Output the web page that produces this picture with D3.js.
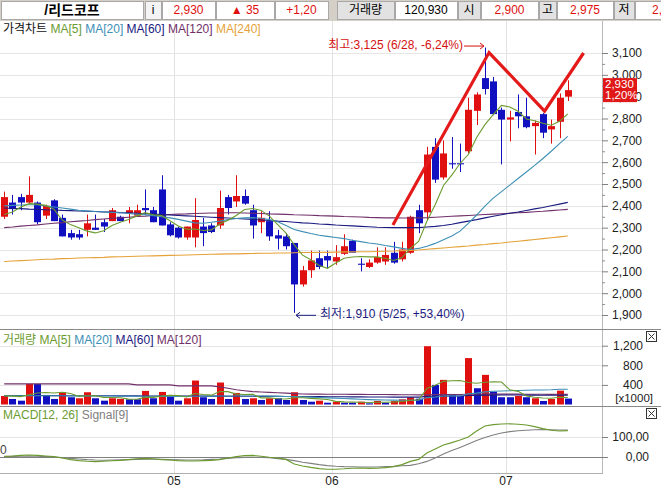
<!DOCTYPE html>
<html><head><meta charset="utf-8">
<script src="https://cdn.jsdelivr.net/npm/d3@7"></script>
<style>
html,body{margin:0;padding:0;background:#fff;overflow:hidden}
svg{display:block;font-family:"Liberation Sans","Noto Sans CJK KR",sans-serif;font-size:12px}
</style></head><body>
<svg id="c" width="661" height="491"></svg>
<script>
// ---------- DATA ----------
const stockName = "/리드코프";
const curPrice = "2,930", change = "35", changePct = "+1,20", todayVol = "120,930";
const dayOpen = "2,900", dayHigh = "2,975", dayLow = "2,880";
const lastPctLabel = "1,20%";

const opens = [2350,2415,2440,2415,2415,2355,2425,2345,2275,2270, 2290,2300,2325,2330,2350,2365,2355,2390,2380,2475, 2315,2300,2255,2255,2305,2310,2310,2440,2420,2445, 2380,2325,2330,2265,2260,2230,2040,2105,2160,2170, 2145,2180,2240,2135,2120,2140,2145,2185,2155,2185, 2380,2370,2670,2530,2595,2595,2650,2835,2985,2970, 2840,2795,2830,2810,2765,2820,2750,2785,2900];
const highs = [2465,2450,2455,2535,2420,2405,2430,2360,2290,2290, 2360,2360,2340,2390,2355,2395,2405,2475,2395,2540, 2325,2305,2305,2435,2345,2320,2470,2450,2540,2475, 2405,2375,2375,2290,2275,2230,2125,2195,2195,2195, 2220,2270,2245,2160,2155,2210,2210,2235,2235,2355, 2405,2670,2710,2700,2715,2685,2895,2920,3125,2990, 2850,2835,2910,2895,2790,2825,2795,2915,2975];
const lows = [2340,2360,2380,2410,2315,2340,2330,2260,2245,2245, 2260,2290,2280,2330,2330,2320,2350,2360,2325,2310, 2260,2250,2245,2210,2215,2275,2295,2360,2395,2405, 2250,2275,2240,2200,2200,1910,2030,2070,2110,2115, 2130,2175,2185,2100,2115,2135,2130,2135,2145,2180, 2275,2335,2505,2520,2570,2555,2640,2770,2910,2815, 2590,2695,2755,2755,2635,2710,2685,2710,2880];
const closes = [2440,2385,2415,2450,2325,2400,2330,2260,2255,2255, 2320,2290,2305,2380,2330,2380,2380,2380,2325,2310, 2265,2255,2305,2335,2275,2280,2390,2390,2445,2410, 2310,2345,2260,2250,2215,2040,2105,2150,2120,2150, 2165,2215,2185,2130,2140,2165,2175,2140,2200,2350, 2320,2635,2520,2640,2590,2590,2840,2910,2935,2820, 2795,2805,2810,2760,2780,2735,2765,2895,2930];

const ma5 = [2360,2372,2395,2410,2408,2402,2385,2335,2314,2300, 2284,2276,2286,2310,2325,2337,2354,2369,2359,2355, 2332,2308,2293,2294,2287,2290,2317,2334,2356,2383, 2388,2379,2353,2314,2275,2221,2174,2153,2127,2114, 2138,2160,2166,2168,2166,2166,2159,2150,2163,2205, 2237,2329,2405,2493,2541,2594,2635,2713,2772,2818, 2860,2853,2833,2798,2790,2778,2769,2787,2821];
const ma20 = [2400,2402,2404,2405,2405,2400,2395,2390,2385,2380, 2377,2374,2372,2370,2368,2365,2362,2359,2355,2350, 2345,2338,2330,2322,2320,2325,2330,2337,2342,2345, 2346,2343,2337,2327,2310,2292,2282,2273,2265,2260, 2255,2250,2242,2236,2230,2225,2218,2212,2205,2200, 2205,2215,2228,2245,2262,2284,2320,2358,2399,2435, 2465,2495,2525,2555,2585,2617,2650,2685,2718];
const ma60 = [2390,2388,2387,2385,2384,2382,2381,2379,2378,2376, 2375,2374,2372,2371,2369,2368,2366,2364,2362,2360, 2358,2356,2354,2352,2350,2348,2346,2344,2342,2340, 2338,2335,2333,2330,2328,2325,2322,2320,2317,2315, 2312,2310,2308,2306,2304,2302,2301,2300,2300,2300, 2300,2303,2306,2310,2316,2323,2330,2337,2345,2352, 2359,2366,2372,2379,2386,2392,2400,2408,2416];
const ma120 = [2300,2303,2307,2310,2313,2317,2320,2323,2327,2330, 2333,2337,2340,2343,2345,2348,2351,2353,2356,2358, 2360,2362,2363,2365,2366,2367,2367,2368,2368,2367, 2366,2365,2363,2362,2361,2359,2358,2357,2355,2354, 2353,2351,2350,2349,2347,2346,2345,2345,2344,2344, 2345,2346,2348,2350,2352,2354,2356,2358,2360,2362, 2364,2366,2368,2370,2373,2375,2378,2381,2384];
const ma240 = [2145,2147,2149,2151,2153,2155,2156,2158,2159,2161, 2162,2163,2164,2166,2167,2168,2169,2170,2171,2172, 2173,2174,2175,2176,2177,2178,2179,2180,2180,2181, 2182,2183,2183,2184,2184,2185,2186,2186,2187,2187, 2188,2189,2189,2190,2190,2191,2192,2193,2195,2196, 2198,2201,2204,2207,2210,2213,2216,2220,2223,2227, 2230,2234,2238,2242,2246,2250,2254,2258,2262];

// volume in thousands of shares; 1 = red bar, 0 = blue bar
const volumes = [174,113,78,420,420,195,113,250,148,127, 250,127,78,127,113,106,106,277,127,256, 174,78,127,489,148,113,448,113,236,113, 127,92,127,127,92,250,92,57,78,37, 57,37,37,57,24,71,37,71,106,147, 119,1190,400,502,215,174,947,332,605,263, 148,148,174,148,127,72,113,283,121];
const volUp = [1,0,0,1,0,0,0,1,0,1, 1,0,0,1,1,0,0,1,0,1, 0,0,1,1,0,0,1,0,1,0, 1,0,1,0,0,1,0,0,1,0, 1,0,0,1,0,1,0,1,1,1, 0,1,0,1,0,0,1,0,1,0, 0,0,1,0,1,0,1,1,0];
const volMa5 = [180,170,160,200,235,245,235,250,225,170, 178,180,146,142,139,110,106,146,146,174, 188,182,152,225,203,191,265,262,212,205, 207,136,139,117,113,138,138,124,114,103, 64,53,49,45,42,45,45,52,62,86, 96,327,392,472,485,490,448,434,455,464, 459,299,268,176,149,134,127,149,143];
const volMa20 = [175,176,178,180,180,180,179,178,177,176, 175,174,173,172,171,170,169,168,167,166, 165,166,167,168,169,170,172,174,175,175, 175,172,170,166,163,160,155,150,142,135, 130,122,115,108,100,95,92,90,88,86, 86,141,154,173,179,175,218,232,258,270, 274,280,287,291,296,296,300,311,311];
const volMa60 = [185,184,184,183,183,182,181,181,180,180, 179,179,178,178,177,177,176,175,175,174, 174,173,172,172,171,170,170,169,168,168, 167,166,165,165,164,163,162,161,160,159, 158,157,156,155,154,153,152,151,150,150, 150,165,167,170,172,175,185,187,192,192, 193,193,193,192,191,190,189,189,188];
const volMa120 = [420,420,420,420,420,420,420,420,420,420, 420,420,420,420,420,420,400,400,400,400, 400,380,380,380,380,380,360,330,300,280, 263,255,248,240,232,222,215,212,211,210, 209,208,207,206,205,204,203,202,200,198, 196,200,201,203,203,203,208,209,212,212, 212,211,211,210,209,208,207,208,207];

const macd = [3,5,8,10,8,5,2,-5,-13,-18, -21,-23,-21,-19,-17,-13,-9,-7,-9,-13, -15,-18,-20,-20,-18,-17,-13,-5,2,7, 8,4,-1,-5,-12,-35,-45,-52,-58,-61, -61,-59,-56,-55,-57,-56,-53,-48,-38,-22, -12,20,40,60,72,85,100,130,155,162, 165,166,164,160,152,142,134,130,132];
const signal = [2,3,4,5,4,2,0,-3,-7,-10, -13,-15,-16,-15,-14,-13,-12,-11,-11,-12, -13,-14,-15,-15,-14,-12,-10,-7,-4,-2, -1,-2,-4,-8,-12,-18,-26,-32,-38,-43, -46,-48,-49,-50,-50,-50,-48,-47,-44,-42, -34,-22,-5,15,32,48,65,82,98,110, 120,127,131,134,136,137,136,135,135];

const monthLabels = ["05","06","07"];
const monthStart = [21,40,61];
const priceTicks = [1900,2000,2100,2200,2300,2400,2500,2600,2700,2800,2900,3000,3100];
const volTicks = [400,800,1200];
const macdTicks = [0,100];

const hiIdx = 58, hiLabel = "최고:3,125 (6/28, -6,24%)";
const loIdx = 35, loLabel = "최저:1,910 (5/25, +53,40%)";
// hand-drawn trend line (candle index, price)
const trendIdx = [46.9, 58.5, 65.2, 69.9];
const trendPrice = [2312, 3102, 2834, 3100];

// ---------- DRAW ----------
const W = 661, H = 491, PR = 602;
const RED = "#e01010", BLUE = "#1010c0";
const C5 = "#6b9b2f", C20 = "#3d8fb5", C60 = "#1a1a80", C120 = "#70306a", C240 = "#e5a23a";
const svg = d3.select("#c");
const n = closes.length;
const x = d3.scaleLinear().domain([0, n - 1]).range([4.2, 567.8]);
const yP = d3.scaleLinear().domain([1900, 3100]).range([315, 53]);
const yV = d3.scaleLinear().domain([0, 1200]).range([404.5, 345.7]);
const yM = d3.scaleLinear().domain([0, 100]).range([457, 437]);
const cx = i => Math.round(x(i));
const fmtC = d3.format(",");
const fmtM = d => d3.format(".2f")(d).replace(".", ",");

svg.append("rect").attr("width", W).attr("height", H).attr("fill", "#fff");

// header bar
svg.append("rect").attr("x", 0).attr("y", 0).attr("width", W).attr("height", 21).attr("fill", "#d4d0c8");
const hdr = [
  {x0:1,x1:143,t:stockName,c:"#000",bg:"#fff",b:true},
  {x0:145,x1:161,t:"i",c:"#000",bg:"#f4f4f4"},
  {x0:162,x1:215,t:curPrice,c:RED,bg:"#fff"},
  {x0:216,x1:274,t:"▲ "+change,c:RED,bg:"#fff"},
  {x0:275,x1:328,t:changePct,c:RED,bg:"#fff"},
  {x0:337,x1:394,t:"거래량",c:"#000",bg:"#e2e2e2"},
  {x0:395,x1:457,t:todayVol,c:"#000",bg:"#fff"},
  {x0:458,x1:480,t:"시",c:"#000",bg:"#e2e2e2"},
  {x0:481,x1:538,t:dayOpen,c:RED,bg:"#fff"},
  {x0:539,x1:556,t:"고",c:"#000",bg:"#e2e2e2"},
  {x0:557,x1:613,t:dayHigh,c:RED,bg:"#fff"},
  {x0:614,x1:634,t:"저",c:"#000",bg:"#e2e2e2"},
  {x0:635,x1:680,t:dayLow,c:RED,bg:"#fff",start:652}
];
const hg = svg.append("g");
hdr.forEach(h => {
  hg.append("rect").attr("x", h.x0 + 0.5).attr("y", 1.5).attr("width", h.x1 - h.x0).attr("height", 18)
    .attr("fill", h.bg).attr("stroke", "#a8a8a8");
  hg.append("text").attr("x", h.start ? h.start : (h.x0 + h.x1) / 2).attr("y", 11)
    .attr("text-anchor", h.start ? "start" : "middle").attr("dominant-baseline", "middle")
    .attr("fill", h.c).attr("font-size", h.b ? 14 : 12).attr("font-weight", h.b ? "bold" : "normal").text(h.t);
});

// vertical month grid
const gx = svg.append("g");
monthStart.forEach(m => {
  gx.append("line").attr("x1", cx(m - 0.5) + 0.5).attr("x2", cx(m - 0.5) + 0.5).attr("y1", 21).attr("y2", 473)
    .attr("stroke", "#e2e2e2");
});

// price grid
const pg = svg.append("g");
priceTicks.forEach(t => pg.append("line").attr("x1", 0).attr("x2", PR).attr("y1", Math.round(yP(t)) + 0.5).attr("y2", Math.round(yP(t)) + 0.5).attr("stroke", "#e6e6e6"));
// volume grid
volTicks.forEach(t => pg.append("line").attr("x1", 0).attr("x2", PR).attr("y1", Math.round(yV(t)) + 0.5).attr("y2", Math.round(yV(t)) + 0.5).attr("stroke", "#e6e6e6"));
// macd grid
pg.append("line").attr("x1", 0).attr("x2", PR).attr("y1", Math.round(yM(100)) + 0.5).attr("y2", Math.round(yM(100)) + 0.5).attr("stroke", "#e6e6e6");
pg.append("line").attr("x1", 0).attr("x2", PR).attr("y1", Math.round(yM(0)) + 0.5).attr("y2", Math.round(yM(0)) + 0.5).attr("stroke", "#808080");

// panel frames
const fr = svg.append("g");
fr.append("line").attr("x1", PR + 0.5).attr("x2", PR + 0.5).attr("y1", 21).attr("y2", 473).attr("stroke", "#b8b8b8");
fr.append("line").attr("x1", 0).attr("x2", W).attr("y1", 329.5).attr("y2", 329.5).attr("stroke", "#8a8a8a");
fr.append("line").attr("x1", 0).attr("x2", W).attr("y1", 406.5).attr("y2", 406.5).attr("stroke", "#8a8a8a");
fr.append("line").attr("x1", 0).attr("x2", PR + 1).attr("y1", 473.5).attr("y2", 473.5).attr("stroke", "#b0b0b0");

// axes
function styleAxis(g, tx) {
  g.select(".domain").remove();
  g.selectAll(".tick line").attr("stroke", "#808080");
  g.selectAll(".tick text").attr("text-anchor", "end").attr("x", tx).attr("fill", "#222").attr("font-size", 12)
    .attr("font-family", "Liberation Sans, sans-serif");
}
svg.append("g").attr("transform", `translate(${PR},0)`)
  .call(d3.axisRight(yP).tickValues(d3.range(1950, 3101, 100)).tickSize(3).tickFormat(""))
  .call(g => { g.select(".domain").remove(); g.selectAll(".tick line").attr("stroke", "#909090"); });
svg.append("g").attr("transform", `translate(${PR},0)`)
  .call(d3.axisRight(yP).tickValues(priceTicks).tickSize(6).tickFormat(fmtC))
  .call(g => styleAxis(g, 40));
svg.append("g").attr("transform", `translate(${PR},0)`)
  .call(d3.axisRight(yV).tickValues(volTicks).tickSize(6).tickFormat(fmtC))
  .call(g => styleAxis(g, 41));
svg.append("text").attr("x", 653).attr("y", 399).attr("text-anchor", "end").attr("dominant-baseline", "middle")
  .attr("fill", "#222").attr("font-size", 11.5).text("[x1000]");
svg.append("g").attr("transform", `translate(${PR},0)`)
  .call(d3.axisRight(yM).tickValues(macdTicks).tickSize(6).tickFormat(fmtM))
  .call(g => styleAxis(g, 47));

// x labels
monthLabels.forEach((l, k) => svg.append("text").attr("x", cx(monthStart[k] - 0.5)).attr("y", 482)
  .attr("text-anchor", "middle").attr("dominant-baseline", "middle").attr("fill", "#222").text(l));

// price clip
svg.append("clipPath").attr("id", "pc").append("rect").attr("x", 0).attr("y", 21).attr("width", PR).attr("height", 308);
const pp = svg.append("g").attr("clip-path", "url(#pc)");

// candles
const cg = pp.append("g");
d3.range(n).forEach(i => {
  const up = closes[i] > opens[i];
  const col = up ? RED : BLUE;
  const xi = cx(i);
  cg.append("line").attr("x1", xi + 0.5).attr("x2", xi + 0.5).attr("y1", yP(highs[i])).attr("y2", yP(lows[i])).attr("stroke", col);
  const top = yP(Math.max(opens[i], closes[i])), bot = yP(Math.min(opens[i], closes[i]));
  cg.append("rect").attr("x", xi - 3).attr("y", top).attr("width", 7).attr("height", Math.max(1, bot - top)).attr("fill", col);
});

// moving averages
const lineP = d3.line().x((d, i) => x(i)).y(d => yP(d));
[[ma240, C240], [ma120, C120], [ma60, C60], [ma20, C20], [ma5, C5]].forEach(([arr, c]) =>
  pp.append("path").datum(arr).attr("d", lineP).attr("fill", "none").attr("stroke", c).attr("stroke-width", 1.1));

// trend line
const trend = trendIdx.map((t, k) => [t, trendPrice[k]]);
pp.append("path").datum(trend).attr("d", d3.line().x(d => x(d[0])).y(d => yP(d[1])))
  .attr("fill", "none").attr("stroke", "#e41a1a").attr("stroke-width", 3.2).attr("stroke-linejoin", "miter");

// annotations
const hx = cx(hiIdx), hy = yP(highs[hiIdx]) - 2;
svg.append("text").attr("x", hx - 22).attr("y", hy).attr("text-anchor", "end").attr("dominant-baseline", "middle")
  .attr("fill", "#d41010").text(hiLabel);
svg.append("path").attr("d", `M${hx - 21},${hy + 0.5}H${hx - 1}M${hx - 5},${hy - 2.5}L${hx - 1},${hy + 0.5}L${hx - 5},${hy + 3.5}`)
  .attr("fill", "none").attr("stroke", "#d41010");
const lx = cx(loIdx) + 1, ly = yP(lows[loIdx]) + 2;
svg.append("path").attr("d", `M${lx + 1},${ly + 0.5}H${lx + 21}M${lx + 5},${ly - 2.5}L${lx + 1},${ly + 0.5}L${lx + 5},${ly + 3.5}`)
  .attr("fill", "none").attr("stroke", "#1a1a80");
svg.append("text").attr("x", lx + 25).attr("y", ly).attr("dominant-baseline", "middle").attr("fill", "#1a1a80").text(loLabel);

// current price tag
const ty = yP(closes[n - 1]);
svg.append("rect").attr("x", 603).attr("y", ty - 12).attr("width", 34).attr("height", 24).attr("fill", "#e01818");
svg.append("text").attr("x", 605).attr("y", ty - 5.5).attr("dominant-baseline", "middle").attr("fill", "#fff").attr("font-size", 11.5).text(curPrice);
svg.append("text").attr("x", 605).attr("y", ty + 6).attr("dominant-baseline", "middle").attr("fill", "#fff").attr("font-size", 11.5).text(lastPctLabel);

// legends
function legend(y, parts) {
  const t = svg.append("text").attr("x", 3).attr("y", y).attr("dominant-baseline", "middle");
  parts.forEach(([s, c], k) => t.append("tspan").attr("fill", c).text((k ? " " : "") + s));
}
legend(30, [["가격차트", "#111"], ["MA[5]", C5], ["MA[20]", C20], ["MA[60]", C60], ["MA[120]", C120], ["MA[240]", C240]]);
legend(341, [["거래량", C5], ["MA[5]", C5], ["MA[20]", C20], ["MA[60]", C60], ["MA[120]", C120]]);
legend(416, [["MACD[12, 26]", C5], ["Signal[9]", "#808080"]]);

// volume bars
const vg = svg.append("g");
d3.range(n).forEach(i => {
  vg.append("rect").attr("x", cx(i) - 3).attr("y", yV(volumes[i])).attr("width", 7)
    .attr("height", yV(0) - yV(volumes[i])).attr("fill", volUp[i] ? RED : BLUE);
});
const lineV = d3.line().x((d, i) => x(i)).y(d => yV(d));
[[volMa120, C120], [volMa60, C60], [volMa20, C20], [volMa5, C5]].forEach(([arr, c]) =>
  vg.append("path").datum(arr).attr("d", lineV).attr("fill", "none").attr("stroke", c).attr("stroke-width", 1.1));

// macd
const lineM = d3.line().x((d, i) => x(i)).y(d => yM(d));
svg.append("path").datum(signal).attr("d", lineM).attr("fill", "none").attr("stroke", "#808080").attr("stroke-width", 1.1);
svg.append("path").datum(macd).attr("d", lineM).attr("fill", "none").attr("stroke", C5).attr("stroke-width", 1.1);
svg.append("text").attr("x", 0).attr("y", 451).attr("dominant-baseline", "middle").attr("fill", "#444").text("0");

// close buttons
[331, 408].forEach(by => {
  const b = svg.append("g").attr("transform", `translate(646.5,${by + 0.5})`);
  b.append("rect").attr("width", 10).attr("height", 10).attr("fill", "#fff").attr("stroke", "#333");
  b.append("path").attr("d", "M2,2L8,8M8,2L2,8").attr("stroke", "#333");
});
</script>
</body></html>
